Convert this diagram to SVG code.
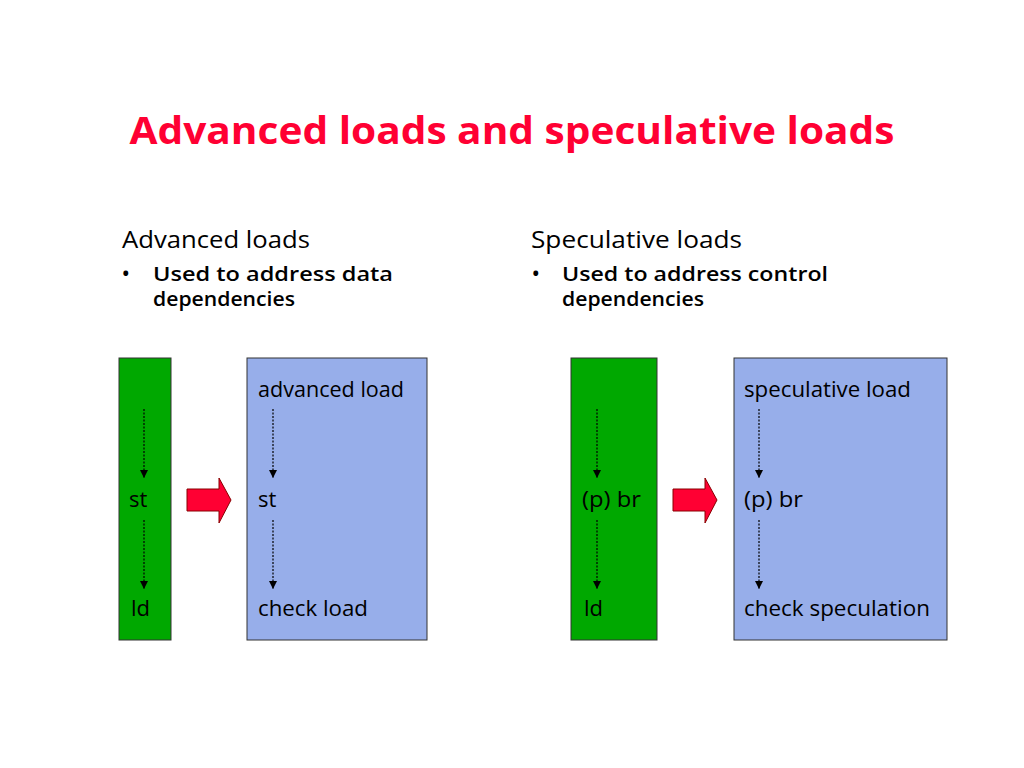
<svg xmlns="http://www.w3.org/2000/svg" width="1024" height="768" viewBox="0 0 1024 768">
<style>
text{font-family:"Open Sans","DejaVu Sans",sans-serif;fill:#000}
.title{font-size:37px;font-weight:bold;fill:#FF0033}
.h{font-size:24px;font-weight:500}
.b{font-size:20px;font-weight:600}
.lbl{font-size:22px}
.g{fill:#00A800;stroke:#333;stroke-width:1}
.bl{fill:#97AEEA;stroke:#333;stroke-width:1}
.dot{stroke:#000;stroke-width:1.2;stroke-dasharray:2 1.5;fill:none}
.big{fill:#FF0033;stroke:#800;stroke-width:1}
</style>
<defs>
<marker id="ah" viewBox="0 0 10 10" refX="10" refY="5" markerWidth="8" markerHeight="8" markerUnits="userSpaceOnUse" orient="auto">
<path d="M0,0 L10,5 L0,10 z" fill="#000"/>
</marker>
</defs>
<rect width="1024" height="768" fill="#fff"/>
<text class="title" x="512" y="144" text-anchor="middle" textLength="765" lengthAdjust="spacingAndGlyphs">Advanced loads and speculative loads</text>

<g id="left-header">
<text class="h" x="122" y="248" textLength="188" lengthAdjust="spacingAndGlyphs">Advanced loads</text>
<text class="b" x="122" y="281">•</text>
<text class="b" x="153" y="281" textLength="240" lengthAdjust="spacingAndGlyphs">Used to address data</text>
<text class="b" x="153" y="306" textLength="142" lengthAdjust="spacingAndGlyphs">dependencies</text>
</g>
<g id="right-header">
<text class="h" x="531" y="248" textLength="211" lengthAdjust="spacingAndGlyphs">Speculative loads</text>
<text class="b" x="532" y="281">•</text>
<text class="b" x="562" y="281" textLength="266" lengthAdjust="spacingAndGlyphs">Used to address control</text>
<text class="b" x="562" y="306" textLength="142" lengthAdjust="spacingAndGlyphs">dependencies</text>
</g>

<g id="green1">
<rect class="g" x="119" y="358" width="52" height="282"/>
<text class="lbl" x="129" y="507">st</text>
<text class="lbl" x="131" y="616">ld</text>
</g>
<g id="blue1">
<rect class="bl" x="247" y="358" width="180" height="282"/>
<text class="lbl" x="258" y="397" textLength="146" lengthAdjust="spacingAndGlyphs">advanced load</text>
<text class="lbl" x="258" y="507">st</text>
<text class="lbl" x="258" y="616" textLength="110" lengthAdjust="spacingAndGlyphs">check load</text>
</g>
<g id="green2">
<rect class="g" x="571" y="358" width="86" height="282"/>
<text class="lbl" x="582" y="507" textLength="59" lengthAdjust="spacingAndGlyphs">(p) br</text>
<text class="lbl" x="584" y="616">ld</text>
</g>
<g id="blue2">
<rect class="bl" x="734" y="358" width="213" height="282"/>
<text class="lbl" x="744" y="397" textLength="167" lengthAdjust="spacingAndGlyphs">speculative load</text>
<text class="lbl" x="744" y="507" textLength="59" lengthAdjust="spacingAndGlyphs">(p) br</text>
<text class="lbl" x="744" y="616" textLength="186" lengthAdjust="spacingAndGlyphs">check speculation</text>
</g>

<g id="connectors">
<line class="dot" x1="144" y1="409" x2="144" y2="478" marker-end="url(#ah)"/>
<line class="dot" x1="144" y1="520" x2="144" y2="589" marker-end="url(#ah)"/>
<line class="dot" x1="273" y1="409" x2="273" y2="478" marker-end="url(#ah)"/>
<line class="dot" x1="273" y1="520" x2="273" y2="589" marker-end="url(#ah)"/>
<line class="dot" x1="597" y1="409" x2="597" y2="478" marker-end="url(#ah)"/>
<line class="dot" x1="597" y1="520" x2="597" y2="589" marker-end="url(#ah)"/>
<line class="dot" x1="759" y1="409" x2="759" y2="478" marker-end="url(#ah)"/>
<line class="dot" x1="759" y1="520" x2="759" y2="589" marker-end="url(#ah)"/>
<path class="big" d="M187,489 L219,489 L219,478 L231,500 L219,523 L219,511 L187,511 Z"/>
<path class="big" d="M673,489 L705,489 L705,478 L717,500 L705,523 L705,511 L673,511 Z"/>
</g>
</svg>
